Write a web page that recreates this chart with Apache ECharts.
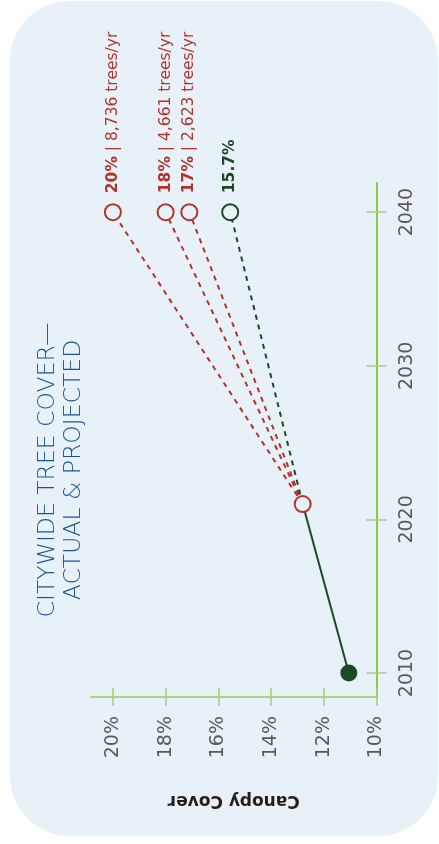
<!DOCTYPE html>
<html>
<head>
<meta charset="utf-8">
<script src="https://cdn.jsdelivr.net/npm/echarts@6/dist/echarts.min.js"></script>
<style>
  html, body { margin: 0; padding: 0; background: #fff; }
  #main { width: 439px; height: 844px; }
</style>
</head>
<body>
<div id="main"></div>
<script>
// data
const actualYears = [2010, 2021];
const actualCover = [11.05, 12.8];
const targetYear = 2040;
const targetNames = ["20%", "18%", "17%", "15.7%"];
const targetCover = [20, 18, 17.1, 15.55];
const targetTrees = ["8,736", "4,661", "2,623", ""];
const percentTicks = [10, 12, 14, 16, 18, 20];
const yearTicks = [2010, 2020, 2030, 2040];

const RED = "#b2352b";
const GREEN = "#1c4a25";
const BG = "#e8f1f7";
const TICK = "#a3d07c";
const FONT = "DejaVu Sans";

const targetColors = [RED, RED, RED, GREEN];

const chart = echarts.init(document.getElementById("main"));

const projSeries = targetCover.map((v, i) => ({
  type: "line",
  z: 2,
  lineStyle: { color: targetColors[i], width: 2, type: [5, 5] },
  data: [
    { value: [actualCover[1], actualYears[1]], symbolSize: 0 },
    {
      value: [v, targetYear],
      symbol: "circle",
      symbolSize: 16,
      itemStyle: { color: BG, borderColor: targetColors[i], borderWidth: 2 },
      label: {
        show: true,
        position: "top",
        distance: 10,
        rotate: 90,
        align: "left",
        verticalAlign: "middle",
        formatter: targetTrees[i]
          ? "{b|" + targetNames[i] + "}{n| | " + targetTrees[i] + " trees/yr}"
          : "{b|" + targetNames[i] + "}",
        rich: {
          b: { fontFamily: FONT, fontWeight: "bold", fontSize: 15.5, color: targetColors[i] },
          n: { fontFamily: FONT, fontWeight: "normal", fontSize: 15.5, color: targetColors[i] }
        }
      }
    }
  ]
}));

const option = {
  backgroundColor: "transparent",
  animation: false,
  graphic: [
    {
      type: "rect",
      z: -100,
      silent: true,
      shape: { x: 10, y: 1, width: 428, height: 835, r: 60 },
      style: { fill: BG }
    },
    {
      type: "text",
      x: 61,
      y: 470,
      rotation: Math.PI / 2,
      style: {
        text: "CITYWIDE TREE COVER\u2014\nACTUAL & PROJECTED",
        fill: "#1a5592",
        fontFamily: FONT,
        fontWeight: 200,
        fontSize: 23.5,
        lineHeight: 26,
        align: "center",
        verticalAlign: "middle"
      }
    }
  ],
  grid: { left: 91, right: 62.5, top: 183, bottom: 147 },
  xAxis: [
    {
      type: "value",
      inverse: true,
      position: "bottom",
      min: 10,
      max: 20.83,
      splitLine: { show: false },
      axisLine: { lineStyle: { color: "#a8d487", width: 2 } },
      axisTick: { customValues: percentTicks, length: 9, lineStyle: { color: TICK, width: 1.5 } },
      axisLabel: {
        customValues: percentTicks,
        rotate: 90,
        margin: 19,
        fontFamily: FONT,
        fontSize: 19,
        color: "#58595b",
        formatter: v => v + "%"
      },
      name: "Canopy Cover",
      nameLocation: "middle",
      nameRotate: 180,
      nameGap: 95,
      nameTextStyle: { fontFamily: FONT, fontWeight: "bold", fontSize: 17, color: "#2b1c15" }
    },
    {
      type: "value",
      inverse: true,
      position: "bottom",
      min: 10,
      max: 20.83,
      splitLine: { show: false },
      axisLine: { show: false },
      axisTick: { customValues: percentTicks, inside: true, length: 9, lineStyle: { color: TICK, width: 1.5 } },
      axisLabel: { show: false }
    }
  ],
  yAxis: [
    {
      type: "value",
      position: "right",
      min: 2008.44,
      max: 2041.9,
      splitLine: { show: false },
      axisLine: { lineStyle: { color: "#8fc64e", width: 2 } },
      axisTick: { customValues: yearTicks, length: 10, lineStyle: { color: TICK, width: 1.5 } },
      axisLabel: {
        customValues: yearTicks,
        rotate: 90,
        margin: 21,
        fontFamily: FONT,
        fontSize: 19,
        color: "#58595b",
        formatter: v => String(v)
      }
    },
    {
      type: "value",
      position: "right",
      min: 2008.44,
      max: 2041.9,
      splitLine: { show: false },
      axisLine: { show: false },
      axisTick: { customValues: yearTicks, inside: true, length: 10, lineStyle: { color: TICK, width: 1.5 } },
      axisLabel: { show: false }
    }
  ],
  series: [
    ...projSeries,
    {
      type: "line",
      z: 3,
      lineStyle: { color: GREEN, width: 2 },
      data: [
        { value: [actualCover[0], actualYears[0]], symbol: "circle", symbolSize: 17, itemStyle: { color: GREEN } },
        {
          value: [actualCover[1], actualYears[1]],
          symbol: "circle",
          symbolSize: 16,
          itemStyle: { color: BG, borderColor: RED, borderWidth: 2 }
        }
      ]
    }
  ]
};

chart.setOption(option);
</script>
</body>
</html>
